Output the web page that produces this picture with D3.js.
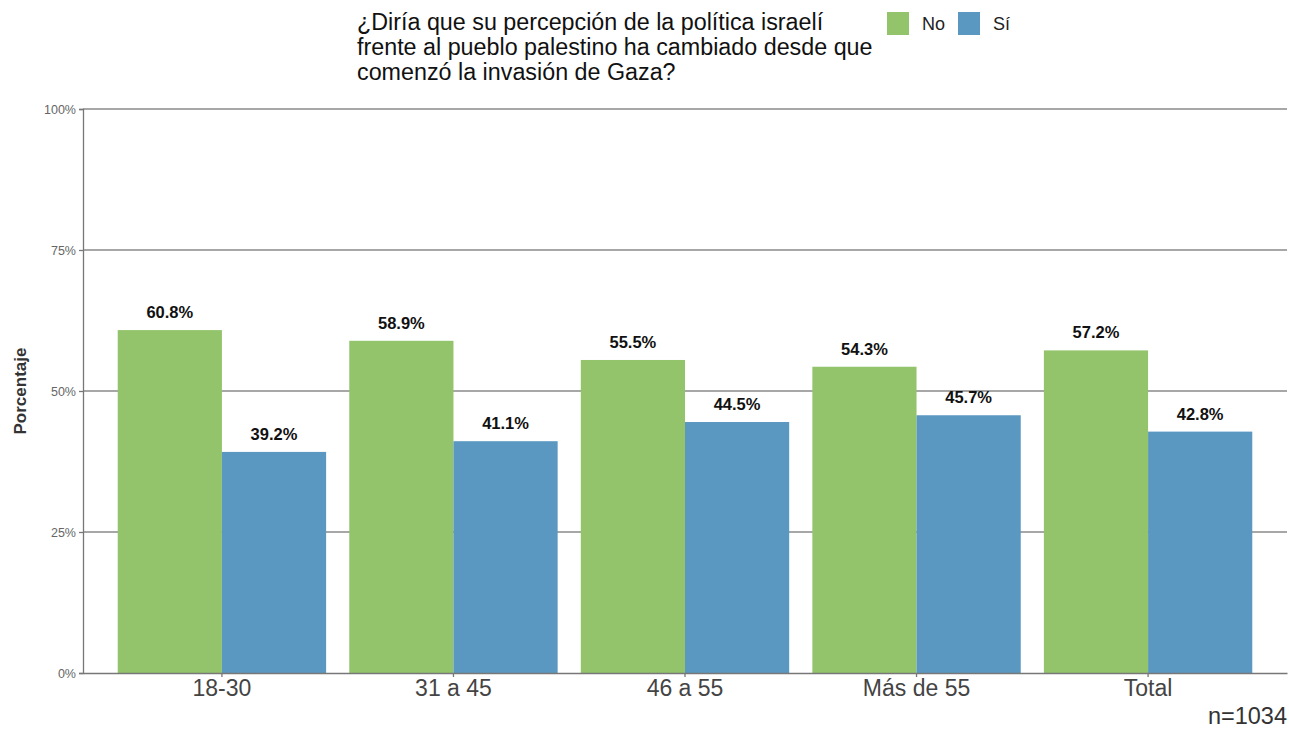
<!DOCTYPE html>
<html>
<head>
<meta charset="utf-8">
<script src="https://cdn.jsdelivr.net/npm/d3@7"></script>
<style>
  body { margin: 0; background: #fff; }
  text { font-family: "Liberation Sans", Arial, sans-serif; }
</style>
</head>
<body>
<div id="chart"></div>
<script>
var categories = ["18-30", "31 a 45", "46 a 55", "Más de 55", "Total"];
var series = ["No", "Sí"];
var noValues = [60.8, 58.9, 55.5, 54.3, 57.2];
var siValues = [39.2, 41.1, 44.5, 45.7, 42.8];
var yTicks = [0, 25, 50, 75, 100];
var colors = ["#93c46c", "#5a97c1"];

var w = 1289, h = 730;
var padL = 83, padR = 1287, padT = 109, padB = 673;

var svg = d3.select("#chart").append("svg")
  .attr("width", w).attr("height", h);

var x = d3.scaleBand().domain(categories).range([padL, padR])
  .paddingInner(0.1).paddingOuter(0.15);
var x1 = d3.scaleBand().domain(series).range([0, x.bandwidth()]);
var y = d3.scaleLinear().domain([0, 100]).range([padB, padT]);

// gridlines
svg.append("g").selectAll("line").data(yTicks.slice(1)).enter().append("line")
  .attr("x1", padL).attr("x2", padR)
  .attr("y1", function(d) { return y(d); }).attr("y2", function(d) { return y(d); })
  .attr("stroke", "#8a8a8a").attr("stroke-width", 1.3);

var rows = categories.map(function(c, i) { return {cat: c, vals: [noValues[i], siValues[i]]}; });

var g = svg.append("g").selectAll("g").data(rows).enter().append("g")
  .attr("transform", function(d) { return "translate(" + x(d.cat) + ",0)"; });

g.selectAll("rect").data(function(d) { return d.vals.map(function(v, j) { return {s: series[j], v: v, j: j}; }); })
  .enter().append("rect")
  .attr("x", function(d) { return x1(d.s); })
  .attr("width", x1.bandwidth())
  .attr("y", function(d) { return y(d.v); })
  .attr("height", function(d) { return padB - y(d.v); })
  .attr("fill", function(d) { return colors[d.j]; });

g.selectAll("text").data(function(d) { return d.vals.map(function(v, j) { return {s: series[j], v: v}; }); })
  .enter().append("text")
  .attr("x", function(d) { return x1(d.s) + x1.bandwidth() / 2; })
  .attr("y", function(d) { return y(d.v) - 12; })
  .attr("text-anchor", "middle")
  .attr("font-size", 16.5).attr("font-weight", "bold").attr("fill", "#111")
  .text(function(d) { return d.v.toFixed(1) + "%"; });

// y axis
var yaxis = d3.axisLeft(y).tickValues(yTicks).tickSize(4).tickFormat(function(d) { return d + "%"; });
var ya = svg.append("g").attr("transform", "translate(" + padL + ",0)").call(yaxis);
ya.select(".domain").attr("stroke", "#777").attr("stroke-width", 1.3);
ya.selectAll(".tick line").attr("stroke", "#777").attr("stroke-width", 1.3);
ya.selectAll(".tick text").attr("font-size", 12.5).attr("fill", "#666").attr("x", -7)
  .attr("font-family", "Liberation Sans, Arial, sans-serif");

// x axis
var xaxis = d3.axisBottom(x).tickSize(4).tickSizeOuter(0);
var xa = svg.append("g").attr("transform", "translate(0," + padB + ")").call(xaxis);
xa.select(".domain").attr("stroke", "#777").attr("stroke-width", 1.3);
xa.selectAll(".tick line").attr("stroke", "#777").attr("stroke-width", 1.3);
xa.selectAll(".tick text").attr("font-size", 23).attr("fill", "#444").attr("y", 7)
  .attr("font-family", "Liberation Sans, Arial, sans-serif");

// y title
svg.append("text").attr("transform", "translate(26," + y(50) + ") rotate(-90)")
  .attr("text-anchor", "middle").attr("font-size", 17).attr("font-weight", "bold")
  .attr("fill", "#333").text("Porcentaje");

// title
var titleLines = ["¿Diría que su percepción de la política israelí",
  "frente al pueblo palestino ha cambiado desde que",
  "comenzó la invasión de Gaza?"];
svg.append("g").selectAll("text").data(titleLines).enter().append("text")
  .attr("x", 357).attr("y", function(d, i) { return 30 + i * 25; })
  .attr("font-size", 23.3).attr("fill", "#111").text(function(d) { return d; });

// legend
var legX = [887, 958];
series.forEach(function(s, i) {
  svg.append("rect").attr("x", legX[i]).attr("y", 12).attr("width", 22).attr("height", 23)
    .attr("fill", colors[i]);
  svg.append("text").attr("x", legX[i] + 35).attr("y", 30).attr("font-size", 18)
    .attr("fill", "#222").text(s);
});

// caption
svg.append("text").attr("x", padR).attr("y", 724).attr("text-anchor", "end")
  .attr("font-size", 23.5).attr("fill", "#333").text("n=1034");
</script>
</body>
</html>
